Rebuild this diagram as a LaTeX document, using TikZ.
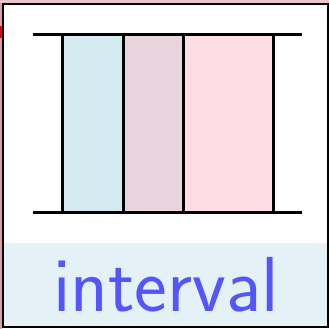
\documentclass[tikz,border=0pt]{standalone}
\usepackage{tikz}
\usetikzlibrary{positioning}
\definecolor{cellblue}{RGB}{213,233,240}
\definecolor{cellmauve}{RGB}{232,212,220}
\definecolor{cellpink}{RGB}{255,221,228}
\definecolor{bandblue}{RGB}{228,241,246}
\definecolor{labelblue}{RGB}{85,85,255}
\definecolor{edgepink}{RGB}{220,160,170}
\begin{document}
\begin{tikzpicture}[
  x=1pt, y=1pt,
  cell/.style={rectangle, draw=black, line width=3pt, inner sep=0pt, outer sep=0pt,
               minimum height=178pt, anchor=south west},
  rail/.style={line width=3pt, line cap=butt}
]
  \useasboundingbox (0,0) rectangle (329,329);
  % Left edge strip
  \fill[edgepink] (0,0) rectangle (2,329);
  \fill[edgepink!60] (0,326) rectangle (329,329);
  \fill[red!90!black] (0,291) rectangle (2,303);

  % Label band
  \fill[bandblue] (3,2) rectangle (328,86);
  \node[font=\sffamily\fontsize{78}{78}\selectfont, text=labelblue,
        inner sep=0pt, anchor=base] (lbl) at (166,17) {interval};

  % Cells
  \node[cell, fill=cellblue, minimum width=61pt]  (c1) at (62,116) {};
  \node[cell, fill=cellmauve, minimum width=60pt, right=0pt of c1.south east, anchor=south west] (c2) {};
  \node[cell, fill=cellpink, minimum width=90pt, right=0pt of c2.south east, anchor=south west]  (c3) {};

  % Rails
  \coordinate (tl) at (33,294);
  \coordinate (tr) at (302,294);
  \coordinate (bl) at (33,116);
  \coordinate (br) at (302,116);
  \draw[rail] (tl) -- (tr);
  \draw[rail] (bl) -- (br);

  % Outer frame
  \draw[line width=2.5pt] (3,2) rectangle (328,325);
\end{tikzpicture}
\end{document}
